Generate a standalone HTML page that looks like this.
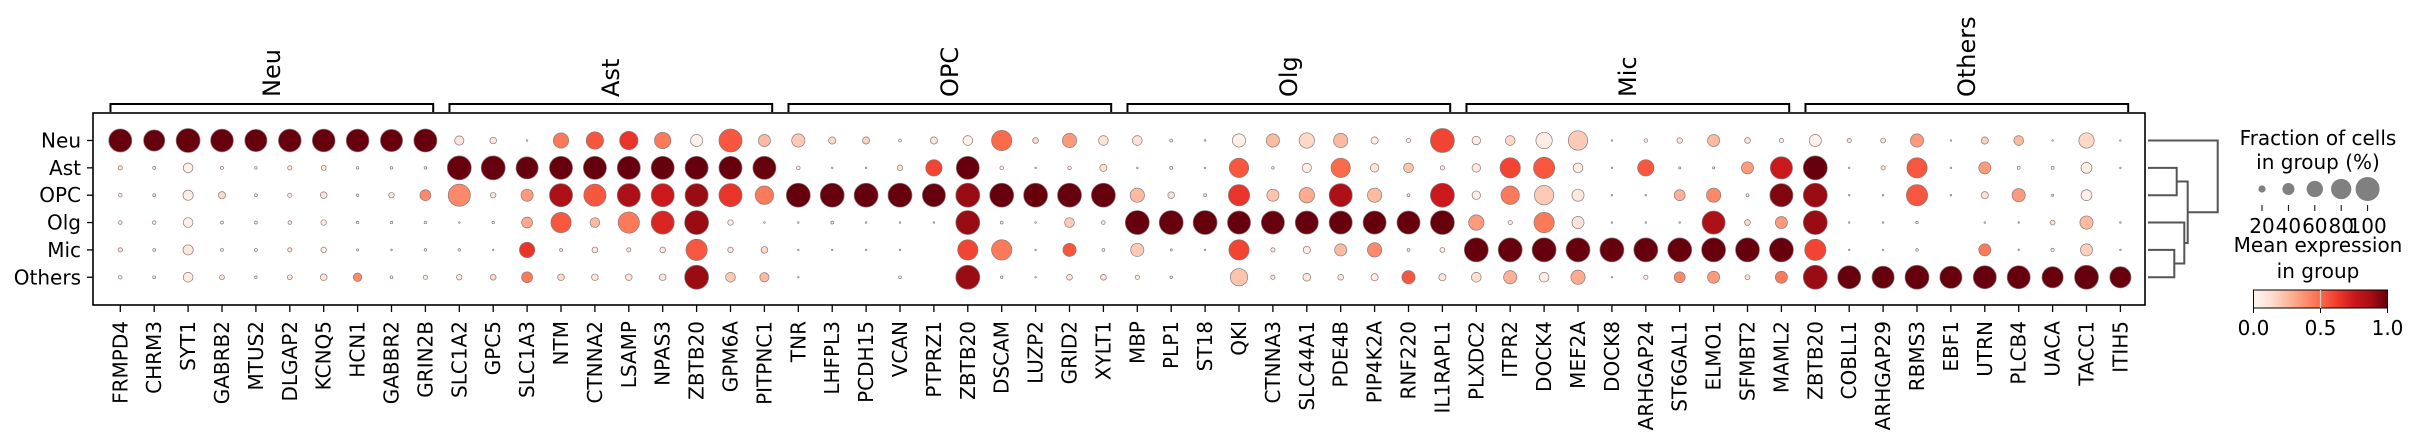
<!DOCTYPE html>
<html><head><meta charset="utf-8">
<style>
html,body{margin:0;padding:0;background:#fff;}
svg{display:block;font-family:"DejaVu Sans","Liberation Sans",sans-serif;}
</style></head>
<body>
<svg id="chart" width="2419" height="442" viewBox="0 0 2419 442" xmlns="http://www.w3.org/2000/svg">
<g id="groups"></g>
<rect x="93" y="113" width="2052" height="192" fill="none" stroke="#000" stroke-width="1.6"/>
<g id="dots"></g>
<g id="axes"></g>
<g id="dendro" fill="none" stroke="#555" stroke-width="2"></g>
<g id="legend"></g>
</svg>
<script>
const groupsCat = ["Neu","Ast","OPC","Olg","Mic","Others"];
const genes = ["FRMPD4","CHRM3","SYT1","GABRB2","MTUS2","DLGAP2","KCNQ5","HCN1","GABBR2","GRIN2B",
"SLC1A2","GPC5","SLC1A3","NTM","CTNNA2","LSAMP","NPAS3","ZBTB20","GPM6A","PITPNC1",
"TNR","LHFPL3","PCDH15","VCAN","PTPRZ1","ZBTB20","DSCAM","LUZP2","GRID2","XYLT1",
"MBP","PLP1","ST18","QKI","CTNNA3","SLC44A1","PDE4B","PIP4K2A","RNF220","IL1RAPL1",
"PLXDC2","ITPR2","DOCK4","MEF2A","DOCK8","ARHGAP24","ST6GAL1","ELMO1","SFMBT2","MAML2",
"ZBTB20","COBLL1","ARHGAP29","RBMS3","EBF1","UTRN","PLCB4","UACA","TACC1","ITIH5"];
const geneGroups = ["Neu","Ast","OPC","Olg","Mic","Others"];
const geneGroupSizes = [10,10,10,10,10,10];
// fraction of cells per gene (rows: Neu, Ast, OPC, Olg, Mic, Others)
const fracNeu = [.95,.85,1,.93,.9,.93,.93,.93,.9,.95, .28,.18,.02,.55,.65,.7,.6,.4,.95,.4, .45,.2,.2,.06,.2,.3,.8,.15,.5,.3, .3,.06,.03,.45,.45,.55,.5,.2,.1,1, .25,.3,.6,.75,.02,.08,.14,.4,.15,.1, .4,.1,.12,.45,.01,.2,.3,.01,.55,.01];
const fracAst = [.1,.06,.3,.06,.05,.1,.12,.05,.05,.05, 1,1,.9,.95,.95,.95,.95,.95,.95,.95, .08,.01,.02,.14,.6,.95,.08,.02,.08,.2, .02,.06,.01,.75,.05,.28,.75,.25,.3,.1, .25,.8,.85,.3,.01,.6,.04,.04,.4,.9, 1,.02,.1,.8,.01,.4,.06,.06,.35,.01];
const fracOPC = [.08,.06,.32,.2,.06,.1,.18,.05,.14,.35, .9,.14,.4,.95,.9,.95,.95,.95,.95,.7, 1,1,1,1,.95,1,1,1,1,1, .5,.18,.06,.85,.4,.55,.95,.5,.06,1, .25,.7,.75,.4,.01,.02,.35,.5,.06,.95, 1,.02,.01,.85,.01,.2,.45,.04,.35,0];
const fracOlg = [.08,.08,.3,.06,.06,.08,.14,.05,.05,.05, .02,.05,.35,.8,.3,.85,.95,1,.14,.03, .02,.06,.01,.01,.01,1,.06,.03,.3,.08, 1,1,1,.95,.95,.95,.95,.95,.95,1, .55,.1,.8,.4,.01,.02,.01,.95,.15,.4, 1,.01,.01,.05,0,.01,.01,.12,.45,.01];
const fracMic = [.1,.06,.32,.06,.06,.1,.14,.04,.03,.05, .05,.02,.55,.06,.15,.1,.15,.85,.14,.18, .02,.01,.02,.02,0,.8,.8,.02,.45,.06, .45,.04,.02,.8,.1,.2,.4,.5,.06,.12, 1,1,1,1,1,1,1,1,1,1, .85,.02,.01,.05,0,.4,.01,.07,.4,.01];
const fracOth = [.08,.06,.3,.12,.05,.12,.18,.25,.06,.1, .14,.15,.35,.18,.18,.18,.18,1,.3,.28, .02,0,0,.06,0,1,.05,.02,.15,.15, .1,.05,0,.65,.1,.22,.15,.2,.45,.2, .3,.45,.3,.5,.02,.1,.35,.4,.12,.4, 1,.95,.9,1,.9,.95,.95,.85,1,.85];
// mean expression (0-1) per gene
const exprNeu = [1,1,1,1,1,1,1,1,1,1, .1,.08,.1,.45,.55,.65,.45,.02,.55,.25, .2,.15,.18,.05,.1,.03,.5,.15,.35,.12, .1,.05,.1,.03,.25,.15,.25,.05,.03,.6, .05,.15,.05,.2,.1,.05,.08,.25,.1,.05, .03,.1,.12,.35,.1,.18,.25,.1,.15,.1];
const exprAst = [.12,.05,.03,.03,.03,.08,.05,.03,.03,.03, 1,1,1,1,1,1,1,1,1,1, .05,.05,.1,.1,.6,1,.05,.1,.05,.12, .1,.05,.1,.55,.05,.05,.5,.1,.22,.03, .08,.6,.55,.05,.1,.55,.05,.05,.35,.75, 1,.1,.1,.55,.1,.35,.05,.05,.05,.1];
const exprOPC = [.05,.05,.03,.15,.03,.05,.08,.03,.1,.4, .4,.08,.35,.85,.55,.85,.75,.9,.65,.45, 1,1,1,1,1,.9,1,1,1,1, .25,.1,.05,.65,.22,.3,.85,.25,.05,.75, .05,.45,.2,.08,.1,.1,.28,.4,.05,.95, .9,.1,.1,.55,.1,.12,.35,.05,.03,0];
const exprOlg = [.05,.05,.03,.03,.03,.05,.05,.03,.03,.03, .03,.03,.3,.55,.25,.45,.7,.9,.05,.1, .1,.05,.05,.05,.1,.9,.05,.1,.2,.05, 1,1,1,1,1,1,1,1,1,1, .35,.05,.45,.1,.1,.1,.1,.85,.15,.35, .9,.1,.1,.05,0,.1,.1,.12,.25,.1];
const exprMic = [.1,.05,.08,.05,.03,.1,.05,.03,.03,.03, .03,.03,.65,.1,.08,.08,.08,.55,.08,.15, .1,.1,.05,.1,0,.6,.45,.1,.55,.05, .2,.05,.1,.6,.08,.05,.25,.4,.05,.05, 1,1,1,1,1,1,1,1,1,1, .6,.1,.1,.05,0,.45,.1,.05,.18,.1];
const exprOth = [.05,.05,.05,.1,.03,.08,.1,.4,.05,.05, .08,.15,.45,.15,.1,.1,.1,.9,.2,.25, .1,0,0,.05,0,.9,.05,.1,.1,.1, .05,.05,0,.22,.08,.08,.05,.05,.55,.08, .12,.28,.05,.3,.1,.05,.4,.35,.1,.45, .9,1,1,1,1,1,1,1,1,1];
const legendFracs = [20,40,60,80,100];
const cbarTicks = [0.0,0.5,1.0];

const fracRows = [fracNeu,fracAst,fracOPC,fracOlg,fracMic,fracOth];
const exprRows = [exprNeu,exprAst,exprOPC,exprOlg,exprMic,exprOth];
const NS = "http://www.w3.org/2000/svg";
const X0 = 120.3, SP = 33.9, Y0 = 140.5, RS = 27.35, RMAX = 12;
const xOf = i => X0 + SP*i;
const yOf = j => Y0 + RS*j;
const rOf = f => RMAX*Math.pow(f,0.75);
const stops = ["#fff5f0","#fee0d2","#fcbba1","#fc9272","#fb6a4a","#ef3b2c","#cb181d","#a50f15","#67000d"];
function hex(h){return [1,3,5].map(k=>parseInt(h.substr(k,2),16));}
function cmap(v){v=Math.max(0,Math.min(1,v));const p=v*8,i=Math.min(7,Math.floor(p)),t=p-i;
 const a=hex(stops[i]),b=hex(stops[i+1]);return "rgb("+a.map((c,k)=>Math.round(c+(b[k]-c)*t)).join(",")+")";}
function mk(tag,attrs,parent){const e=document.createElementNS(NS,tag);for(const k in attrs)e.setAttribute(k,attrs[k]);parent.appendChild(e);return e;}

const dots=document.getElementById("dots");
fracRows.forEach((row,j)=>{row.forEach((f,i)=>{
 if(f<=0)return;
 const c=mk("circle",{cx:xOf(i),cy:yOf(j),r:Math.max(0.8,rOf(f)),fill:cmap(exprRows[j][i]),stroke:"#8a7a7a","stroke-width":0.7},dots);
 
 
});});

const axes=document.getElementById("axes");
groupsCat.forEach((g,j)=>{
 const t=mk("line",{x1:87,x2:93,y1:yOf(j),y2:yOf(j),stroke:"#000","stroke-width":1.3},axes);
 
 
 const tx=mk("text",{x:81,y:yOf(j)+7,"text-anchor":"end","font-size":20,fill:"#000"},axes);
 tx.textContent=g;
 
 
});
genes.forEach((g,i)=>{
 const t=mk("line",{x1:xOf(i),x2:xOf(i),y1:305,y2:312,stroke:"#000","stroke-width":1.3},axes);
 
 
 const tx=mk("text",{x:0,y:0,"text-anchor":"end","font-size":20,fill:"#000",transform:"translate("+(xOf(i)+7)+",321) rotate(-90)"},axes);
 tx.textContent=g;
 
 
});

const gg=document.getElementById("groups");
let start=0;
geneGroups.forEach((g,k)=>{
 const end=start+geneGroupSizes[k]-1;
 const l=xOf(start)-0.29*SP, r=xOf(end)+0.23*SP;
 const p=mk("path",{d:"M"+l+",112 V104 H"+r+" V112",fill:"none",stroke:"#000","stroke-width":2},gg);
 
 
 const cx=(l+r)/2;
 const tx=mk("text",{x:0,y:0,"font-size":24,fill:"#000",transform:"translate("+(cx+8)+",97) rotate(-90)"},gg);
 tx.textContent=g;
 
 
 start=end+1;
});

const dd=document.getElementById("dendro");
const dpaths=["M2148,"+yOf(0)+" H2217.7 V212.3 H2187.7",
 "M2148,"+yOf(1)+" H2176.7 V"+yOf(2)+" H2148",
 "M2176.7,181.5 H2187.7 V243 H2184.3",
 "M2148,"+yOf(3)+" H2184.3 V263.5 H2174.3",
 "M2148,"+yOf(4)+" H2174.3 V"+yOf(5)+" H2148"];
dpaths.forEach(d=>{const p=mk("path",{d:d},dd);
 
 });

const lg=document.getElementById("legend");
function txt(x,y,s,size,name,anchor){const t=mk("text",{x:x,y:y,"font-size":size,"text-anchor":anchor||"middle",fill:"#000"},lg);t.textContent=s;
 
 return t;}
txt(2318,145,"Fraction of cells",20,"size-legend-title");
txt(2318,169,"in group (%)",20,"size-legend-subtitle");
legendFracs.forEach((v,k)=>{
 const x=2262+26.4*k;
 const c=mk("circle",{cx:x,cy:189,r:rOf(v/100),fill:"#808080"},lg);
 
 
 const t=mk("line",{x1:x,x2:x,y1:205,y2:211,stroke:"#000","stroke-width":1},lg);
 
 
 txt(x,233,String(v),20,"size-legend-label");
});
txt(2318,252,"Mean expression",20,"color-legend-title");
txt(2318,278,"in group",20,"color-legend-subtitle");
const defs=mk("defs",{},lg);
const grad=mk("linearGradient",{id:"cg",x1:0,x2:1,y1:0,y2:0},defs);
stops.forEach((s,k)=>mk("stop",{offset:(k/8),"stop-color":s},grad));
const cb=mk("rect",{x:2253.5,y:290,width:134,height:18,fill:"url(#cg)",stroke:"#000","stroke-width":1},lg);


const mid=mk("line",{x1:2320.5,x2:2320.5,y1:290,y2:308,stroke:"#ccc","stroke-width":1.2},lg);


cbarTicks.forEach(v=>{const x=2253.5+134*v;
 const t=mk("line",{x1:x,x2:x,y1:308,y2:313,stroke:"#000","stroke-width":1},lg);
 
 
 txt(x,335,v.toFixed(1),20,"colorbar-label");});
</script>
</body></html>
